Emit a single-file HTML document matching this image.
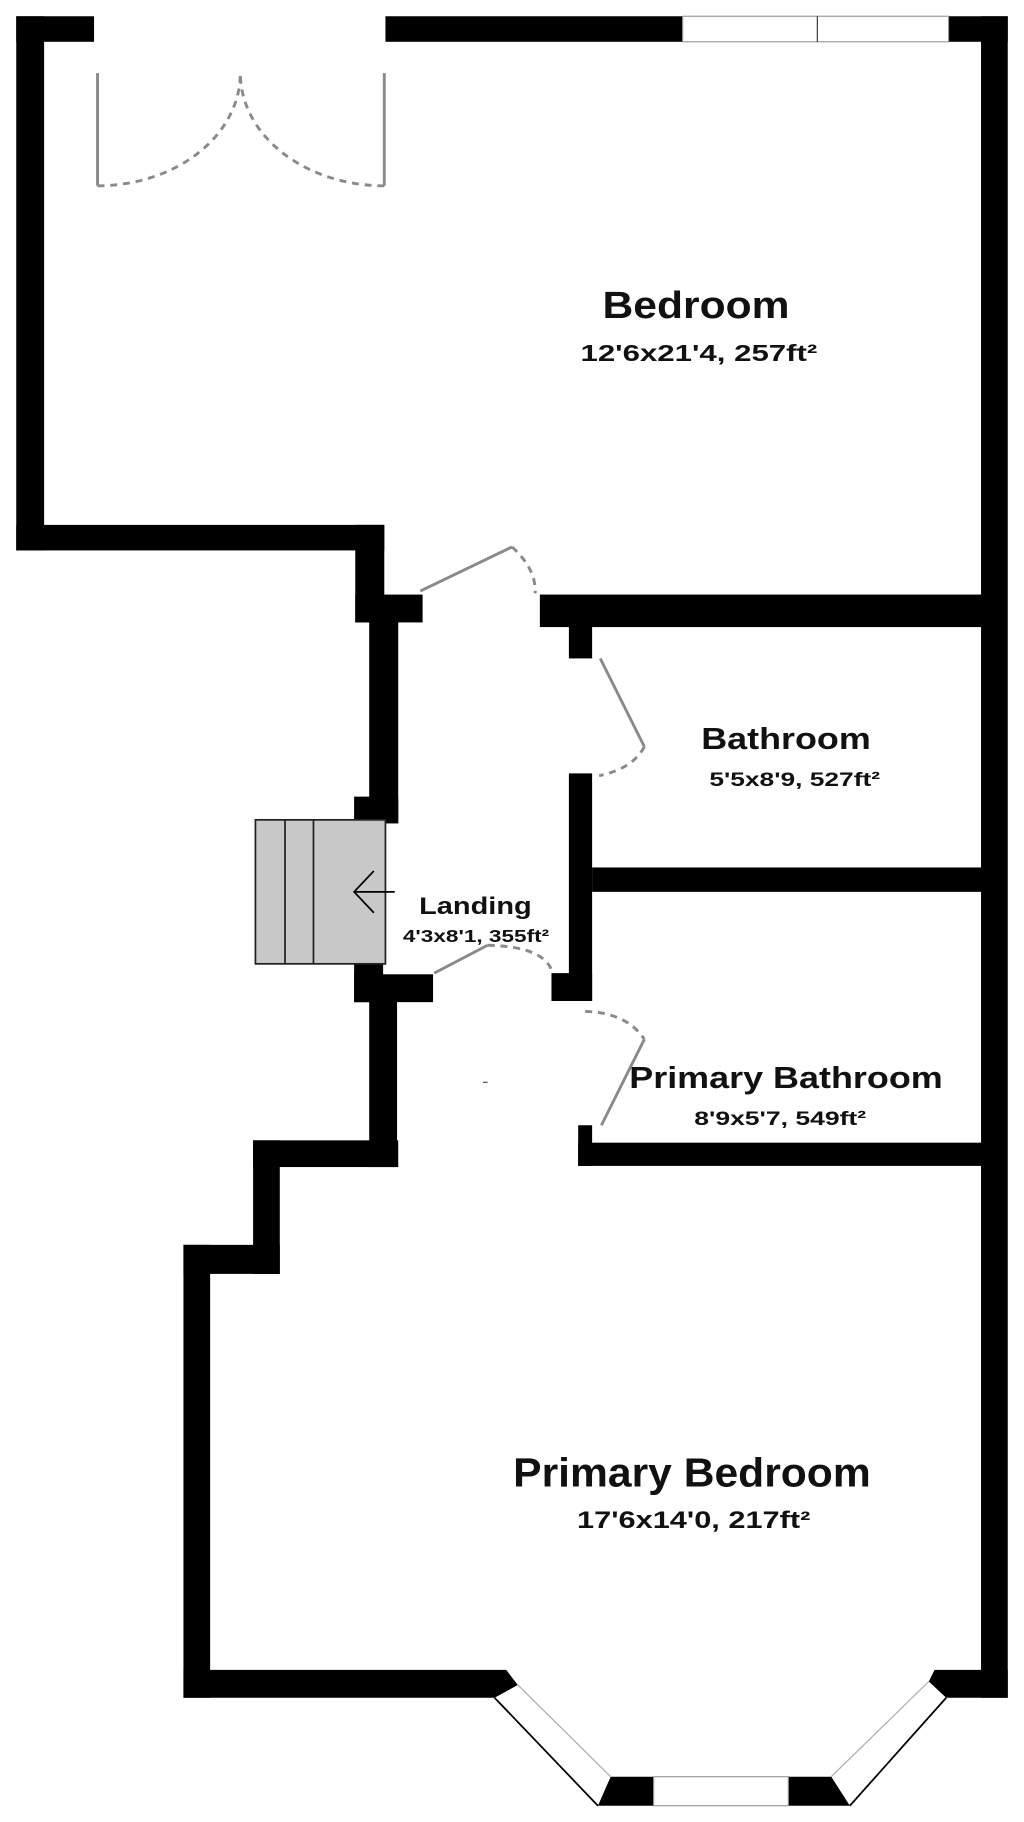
<!DOCTYPE html>
<html><head><meta charset="utf-8"><style>html,body{margin:0;padding:0;background:#fff}svg{display:block}</style></head>
<body>
<svg width="1024" height="1822" viewBox="0 0 882 1569" preserveAspectRatio="none" xmlns="http://www.w3.org/2000/svg">
<rect width="882" height="1569" fill="#fff"/>
<g fill="#000">
<rect x="14" y="14" width="67" height="22"/>
<rect x="332" y="14" width="256" height="22"/>
<rect x="817" y="14" width="51" height="22"/>
<rect x="845" y="14" width="23" height="1448"/>
<rect x="14" y="14" width="24" height="460"/>
<rect x="14" y="452" width="317" height="22"/>
<rect x="306" y="452" width="25" height="84"/>
<rect x="306" y="512" width="58" height="24"/>
<rect x="465" y="512" width="390" height="28"/>
<rect x="318" y="535" width="25" height="174"/>
<rect x="305" y="686" width="38" height="23"/>
<rect x="305" y="830" width="25" height="33"/>
<rect x="305" y="839" width="68" height="24"/>
<rect x="318" y="862" width="24" height="143"/>
<rect x="218" y="982" width="125" height="23"/>
<rect x="490" y="535" width="20" height="32"/>
<rect x="490" y="666" width="20" height="196"/>
<rect x="475" y="838" width="35" height="24"/>
<rect x="510" y="747" width="340" height="21"/>
<rect x="498" y="969" width="12" height="35"/>
<rect x="498" y="984" width="352" height="20"/>
<rect x="218" y="982" width="23" height="115"/>
<rect x="158" y="1072" width="83" height="25"/>
<rect x="158" y="1072" width="23" height="390"/>
<polygon points="158,1438 436,1438 446,1451 426,1462 158,1462"/>
<polygon points="805,1438 868,1438 868,1462 815,1462 800,1448"/>
<polygon points="526,1530 563,1530 563,1555 515,1555"/>
<polygon points="679,1530 716,1530 732,1555 679,1555"/>
</g>
<g fill="#fff" stroke="#999" stroke-width="1">
<rect x="588" y="14" width="229" height="22"/>
<line x1="704" y1="14" x2="704" y2="36" stroke="#333"/>
<rect x="563" y="1530" width="116" height="25"/>
</g>
<line x1="426" y1="1462" x2="515" y2="1555" stroke="#000" stroke-width="1.5"/>
<line x1="446" y1="1451" x2="526" y2="1530" stroke="#aaa" stroke-width="1"/>
<line x1="732" y1="1555" x2="815" y2="1462" stroke="#000" stroke-width="1.5"/>
<line x1="716" y1="1530" x2="800" y2="1448" stroke="#aaa" stroke-width="1"/>
<g stroke="#8a8a8a" stroke-width="2.5" fill="none">
<line x1="84" y1="63" x2="84" y2="160"/>
<line x1="331" y1="63" x2="331" y2="160"/>
<line x1="362" y1="509" x2="441" y2="471"/>
<line x1="517" y1="567" x2="555" y2="643"/>
<line x1="374" y1="838" x2="420" y2="814"/>
<line x1="555" y1="895" x2="518" y2="969"/>
</g>
<g stroke="#8a8a8a" stroke-width="2.5" fill="none" stroke-dasharray="6,5">
<path d="M84,160 A123,97 0 0 0 207,63"/>
<path d="M331,160 A124,97 0 0 1 207,63"/>
<path d="M441,471 Q462,490 461,511"/>
<path d="M555,643 Q545,662 516,668"/>
<path d="M420,814 Q470,815 476,838"/>
<path d="M504,871 Q540,872 555,895"/>
</g>
<rect x="220" y="706" width="112" height="124" fill="#c8c8c8" stroke="#222" stroke-width="1.5"/>
<line x1="245.5" y1="706" x2="245.5" y2="830" stroke="#222" stroke-width="1.5"/>
<line x1="270" y1="706" x2="270" y2="830" stroke="#222" stroke-width="1.5"/>
<g stroke="#000" stroke-width="1.5" fill="none">
<line x1="305" y1="768" x2="340" y2="768"/>
<polyline points="322,750 305,768 322,786"/>
</g>
<line x1="416" y1="932" x2="420" y2="932" stroke="#444" stroke-width="1"/>
<g font-family="Liberation Sans, Arial, sans-serif" fill="#111" font-weight="bold">
<text x="519" y="274" font-size="33" textLength="161" lengthAdjust="spacingAndGlyphs">Bedroom</text>
<text x="500" y="311" font-size="20" textLength="204" lengthAdjust="spacingAndGlyphs">12'6x21'4, 257ft²</text>
<text x="604" y="645" font-size="26" textLength="146" lengthAdjust="spacingAndGlyphs">Bathroom</text>
<text x="611" y="677" font-size="17" textLength="147" lengthAdjust="spacingAndGlyphs">5'5x8'9, 527ft²</text>
<text x="361" y="787" font-size="21" textLength="97" lengthAdjust="spacingAndGlyphs">Landing</text>
<text x="347" y="811" font-size="15" textLength="126" lengthAdjust="spacingAndGlyphs">4'3x8'1, 355ft²</text>
<text x="542" y="937" font-size="26" textLength="270" lengthAdjust="spacingAndGlyphs">Primary Bathroom</text>
<text x="598" y="969" font-size="17" textLength="148" lengthAdjust="spacingAndGlyphs">8'9x5'7, 549ft²</text>
<text x="442" y="1280" font-size="35" textLength="308" lengthAdjust="spacingAndGlyphs">Primary Bedroom</text>
<text x="497" y="1316" font-size="21" textLength="201" lengthAdjust="spacingAndGlyphs">17'6x14'0, 217ft²</text>
</g>
</svg>
</body></html>
